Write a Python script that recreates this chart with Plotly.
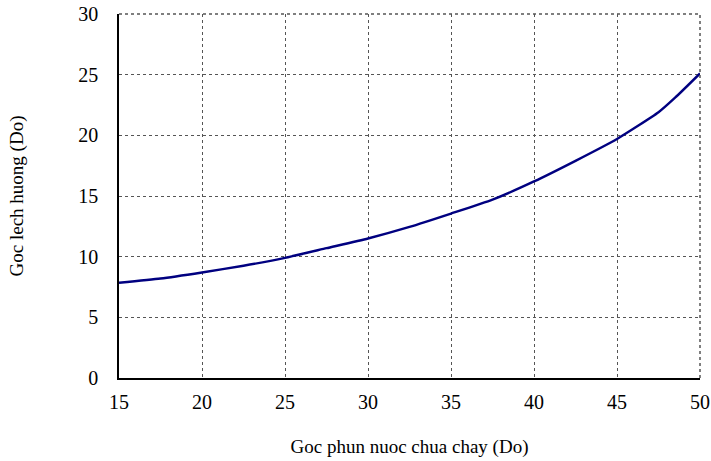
import plotly.graph_objects as go

goc_phun = [15, 17.5, 20, 22.5, 25, 27.5, 30, 32.5, 35, 37.5, 40, 42.5, 45, 47.5, 48.5, 50]
goc_lech = [7.85, 8.2, 8.7, 9.25, 9.9, 10.7, 11.5, 12.45, 13.55, 14.7, 16.2, 17.9, 19.7, 21.9, 23.1, 25.1]

x_ticks = [15, 20, 25, 30, 35, 40, 45, 50]
y_ticks = [0, 5, 10, 15, 20, 25, 30]

fam = "Liberation Serif, Times New Roman, serif"
tickfont = dict(family=fam, color="black", size=20)
titlefont = dict(family=fam, color="black", size=19)

fig = go.Figure()
fig.add_trace(go.Scatter(x=goc_phun, y=goc_lech, mode="lines",
                         line=dict(color="#000080", width=2.4, shape="spline", smoothing=0.5),
                         showlegend=False))

fig.update_layout(
    width=711, height=461,
    margin=dict(l=119, r=11, t=14, b=83, autoexpand=False),
    paper_bgcolor="white", plot_bgcolor="white",
    font=tickfont,
    xaxis=dict(range=[15, 50], tickvals=x_ticks, showgrid=True, gridcolor="#555555",
               griddash="dot", gridwidth=1, showline=True, linecolor="black", linewidth=1.5,
               ticks="", zeroline=False, tickfont=tickfont, automargin=False,
               ticklabelstandoff=5,
               title=dict(text="Goc phun nuoc chua chay (Do)", font=titlefont, standoff=28)),
    yaxis=dict(range=[0, 30], tickvals=y_ticks, showgrid=True, gridcolor="#555555",
               griddash="dot", gridwidth=1, showline=True, linecolor="black", linewidth=1.5,
               ticks="", zeroline=False, tickfont=tickfont, automargin=False,
               ticklabelstandoff=15,
               title=dict(text="Goc lech huong (Do)", font=titlefont, standoff=50)),
)
fig.add_shape(type="line", xref="paper", yref="paper", x0=0, x1=1, y0=1, y1=1,
              line=dict(color="#555555", width=1.5, dash="dot"))
fig.add_shape(type="line", xref="paper", yref="paper", x0=1, x1=1, y0=0, y1=1,
              line=dict(color="#555555", width=1.5, dash="dot"))

fig.write_html("out.html")
